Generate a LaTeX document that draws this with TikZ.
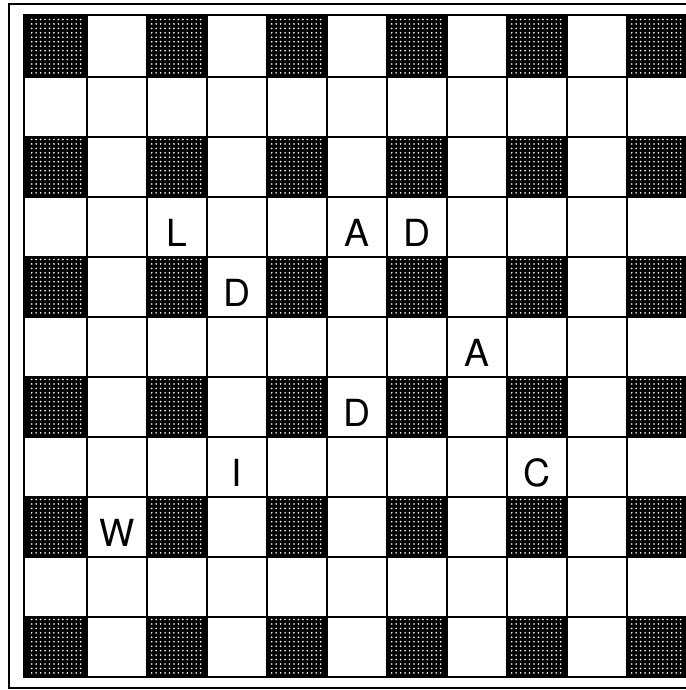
\documentclass[tikz,border=0pt]{standalone}
\usepackage{fontspec}
\setmainfont{TeX Gyre Heros}
\begin{document}
\begin{tikzpicture}[x=0.75pt,y=-0.75pt,
  gridline/.style={line width=1.1pt,black},
  frameline/.style={line width=1.2pt,black},
  dotfill/.style={fill=white},
  lett/.style={anchor=base,inner sep=0pt,font=\fontsize{28}{30}\selectfont}]
\useasboundingbox (0,0) rectangle (686,690);
\clip (0,0) rectangle (686,690);
\fill[white] (0,0) rectangle (686,690);
% outer frame
\draw[frameline] (9,4) rectangle (730,688);
% dark cells
\foreach \i in {0,2,4,6,8,10}{
  \foreach \j in {0,2,4,6,8,10}{
    \pgfmathsetmacro\xa{\i==0 ? 24 : 27+60*\i}
    \pgfmathsetmacro\xb{27+60*(\i+1)}
    \pgfmathsetmacro\ya{\j==0 ? 15 : 17+60*\j}
    \pgfmathsetmacro\yb{17+60*(\j+1)}
    \pgfmathsetmacro\bx{27+60*\i+4.7}
    \pgfmathsetmacro\by{17+60*\j+2.5}
    \fill[black] (\xa,\ya) rectangle (\xb,\yb);
    \fill[dotfill] \foreach \m in {0,...,11}{ \foreach \n in {0,...,12}{
        (\bx+4.45*\m,\by+4.45*\n) circle[radius=0.68pt] } };
  }
}
% grid
\draw[gridline] (24,15) rectangle (740,677);
\foreach \k in {1,...,11}{
  \draw[gridline] (27+60*\k,15) -- (27+60*\k,677);
  \draw[gridline] (24,17+60*\k) -- (740,17+60*\k);
}
% letters
\node[lett] (L)  at (177,246) {L};
\node[lett] (A1) at (357,246) {A};
\node[lett] (D1) at (417,246) {D};
\node[lett] (D2) at (237,306) {D};
\node[lett] (A2) at (477,366) {A};
\node[lett] (D3) at (357,426) {D};
\node[lett] (I)  at (237,486) {I};
\node[lett] (C)  at (537,486) {C};
\node[lett] (W)  at (117,546) {W};
\end{tikzpicture}
\end{document}
